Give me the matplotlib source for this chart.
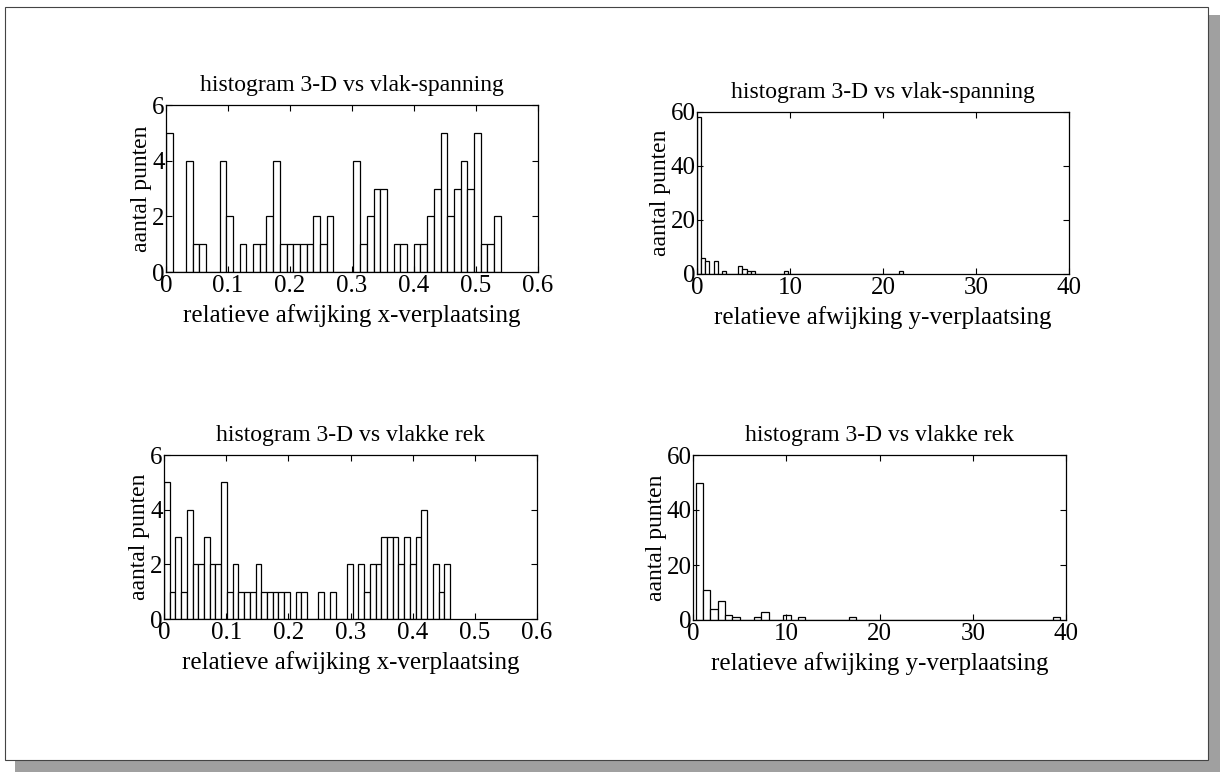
import numpy as np
import matplotlib
matplotlib.use('Agg')
import matplotlib.pyplot as plt
from matplotlib.patches import Rectangle

# ── style: MATLAB-like serif print ────────────────────────────────────────────
plt.rcParams.update({
    'font.family':      ['Liberation Serif', 'DejaVu Serif'],
    'font.size':        17,
    'axes.linewidth':   0.9,
    'xtick.direction':  'in',
    'ytick.direction':  'in',
    'xtick.top':        True,
    'ytick.right':      True,
    'xtick.major.size': 4,
    'ytick.major.size': 4,
    'xtick.major.width': 0.8,
    'ytick.major.width': 0.8,
})

# ── data: 50-bin histograms (counts per bin) and bin range ───────────────────
x_vlak_counts = [5, 0, 0, 4, 1, 1, 0, 0, 4, 2,
                 0, 1, 0, 1, 1, 2, 4, 1, 1, 1,
                 1, 1, 2, 1, 2, 0, 0, 0, 4, 1,
                 2, 3, 3, 0, 1, 1, 0, 1, 1, 2,
                 3, 5, 2, 3, 4, 3, 5, 1, 1, 2]
x_vlak_range = (0.0, 0.54)

y_vlak_counts = [58, 6, 5, 0, 5, 0, 1, 0, 0, 0,
                 3, 2, 1, 1, 0, 0, 0, 0, 0, 0,
                 0, 1, 0, 0, 0, 0, 0, 0, 0, 0,
                 0, 0, 0, 0, 0, 0, 0, 0, 0, 0,
                 0, 0, 0, 0, 0, 0, 0, 0, 0, 1]
y_vlak_range = (0.0, 22.2)

x_rek_counts = [5, 1, 3, 1, 4, 2, 2, 3, 2, 2,
                5, 1, 2, 1, 1, 1, 2, 1, 1, 1,
                1, 1, 0, 1, 1, 0, 0, 1, 0, 1,
                0, 0, 2, 0, 2, 1, 2, 2, 3, 3,
                3, 2, 3, 2, 3, 4, 0, 2, 1, 2]
x_rek_range = (0.0, 0.46)

y_rek_counts = [50, 11, 4, 7, 2, 1, 0, 0, 1, 3,
                0, 0, 2, 0, 1, 0, 0, 0, 0, 0,
                0, 1, 0, 0, 0, 0, 0, 0, 0, 0,
                0, 0, 0, 0, 0, 0, 0, 0, 0, 0,
                0, 0, 0, 0, 0, 0, 0, 0, 0, 1]
y_rek_range = (0.3, 39.4)

titles  = ['histogram 3-D vs vlak-spanning', 'histogram 3-D vs vlak-spanning',
           'histogram 3-D vs vlakke rek', 'histogram 3-D vs vlakke rek']
xlabels = ['relatieve afwijking x-verplaatsing', 'relatieve afwijking y-verplaatsing',
           'relatieve afwijking x-verplaatsing', 'relatieve afwijking y-verplaatsing']
ylabel  = 'aantal punten'

x_ticks_x = [0, 0.1, 0.2, 0.3, 0.4, 0.5, 0.6]
x_ticks_y = [0, 10, 20, 30, 40]
y_ticks_small = [0, 2, 4, 6]
y_ticks_large = [0, 20, 40, 60]

# ── figure ────────────────────────────────────────────────────────────────────
W, H = 1224, 777
fig = plt.figure(figsize=(W / 100, H / 100), dpi=100)


def px_rect(left, top, right, bottom):
    return [left / W, 1 - bottom / H, (right - left) / W, (bottom - top) / H]


# page frame with drop shadow (kept behind the axes)
shadow_kw = dict(transform=fig.transFigure, facecolor='#a0a0a0',
                 edgecolor='none', zorder=-3)
fig.patches.append(Rectangle((15 / W, 1 - 772 / H), 1205 / W, 12 / H, **shadow_kw))
fig.patches.append(Rectangle((1208 / W, 1 - 772 / H), 12 / W, 757 / H, **shadow_kw))
fig.patches.append(Rectangle((5 / W, 1 - 760 / H), 1203 / W, 753 / H,
                             transform=fig.transFigure, facecolor='white',
                             edgecolor='#444444', linewidth=0.8, zorder=-2))

panels = [
    (px_rect(166, 105, 538, 272), x_vlak_counts, x_vlak_range, (0, 0.6), x_ticks_x, (0, 6), y_ticks_small),
    (px_rect(697, 112, 1069, 274), y_vlak_counts, y_vlak_range, (0, 40), x_ticks_y, (0, 60), y_ticks_large),
    (px_rect(164, 455, 537, 619), x_rek_counts, x_rek_range, (0, 0.6), x_ticks_x, (0, 6), y_ticks_small),
    (px_rect(693, 455, 1066, 620), y_rek_counts, y_rek_range, (0, 40), x_ticks_y, (0, 60), y_ticks_large),
]

for i, (rect, counts, rng, xlim, xticks, ylim, yticks) in enumerate(panels):
    ax = fig.add_axes(rect)
    ax.patch.set_alpha(0)
    edges = np.linspace(rng[0], rng[1], len(counts) + 1)
    ax.bar(edges[:-1], counts, width=np.diff(edges), align='edge',
           facecolor='white', edgecolor='black', linewidth=0.9)
    ax.set_xlim(*xlim)
    ax.set_ylim(*ylim)
    ax.set_xticks(xticks)
    ax.set_xticklabels([f'{t:g}' for t in xticks])
    ax.set_yticks(yticks)
    ax.tick_params(axis='both', labelsize=18, pad=1)
    ax.tick_params(axis='x', pad=2)
    ax.set_title(titles[i], fontsize=17, pad=10)
    ax.set_xlabel(xlabels[i], fontsize=18, labelpad=5)
    ax.set_ylabel(ylabel, fontsize=17, labelpad=0)

fig.savefig('out.png', dpi=100)
print("OK out.png")
